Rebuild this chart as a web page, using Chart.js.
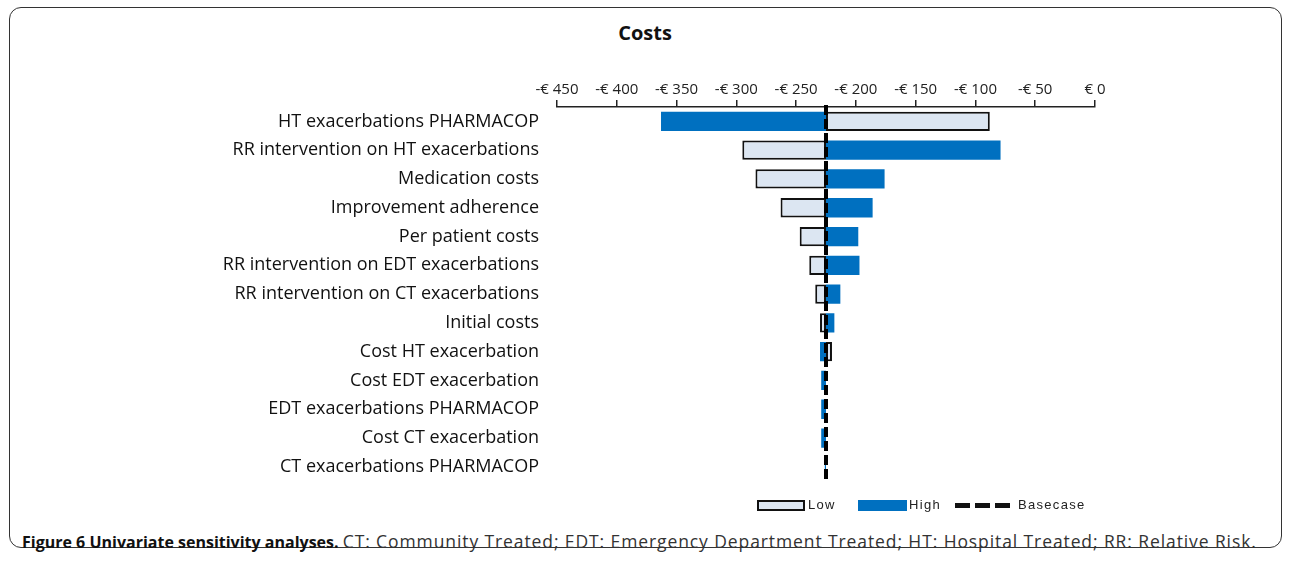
<!DOCTYPE html>
<html>
<head>
<meta charset="utf-8">
<script src="https://cdn.jsdelivr.net/npm/chart.js@4.4.1/dist/chart.umd.min.js"></script>
<style>
  html, body { margin: 0; padding: 0; background: #fff; }
  body { width: 1290px; height: 562px; position: relative; overflow: hidden; font-family: "Open Sans", sans-serif; }
  #frame { position: absolute; left: 9px; top: 7px; width: 1273px; height: 541px; border: 1.5px solid #333; border-radius: 12px; box-sizing: border-box; }
  #title { position: absolute; left: 545px; width: 200px; top: 19px; text-align: center; font: bold 20px "Open Sans", sans-serif; color: #111; }
  #wrap { position: absolute; left: 0; top: 0; width: 1290px; height: 510px; }
  .lg { position: absolute; top: 497px; font: 13px "Liberation Sans", Arial, sans-serif; letter-spacing: 1.3px; color: #222; line-height: 16px; }
  .sw { position: absolute; box-sizing: border-box; }
  .dash { position: absolute; top: 503px; width: 15px; height: 5px; background: #111; }
  #caption { position: absolute; left: 22px; top: 529px; font: 16px "Open Sans", sans-serif; color: #222; white-space: nowrap; }
  #caption b { color: #111; }
  #caption span { font-size: 17.5px; letter-spacing: 0.9px; color: #333; }
</style>
</head>
<body>
<div id="frame"></div>
<div id="title">Costs</div>
<div id="wrap"><canvas id="c"></canvas></div>
<div class="sw" style="left:757px;top:500px;width:48px;height:11px;background:#dce6f2;border:2px solid #111;"></div>
<div class="lg" style="left:808px">Low</div>
<div class="sw" style="left:858px;top:500px;width:49px;height:11px;background:#0070c0;"></div>
<div class="lg" style="left:909px">High</div>
<div class="dash" style="left:955px"></div>
<div class="dash" style="left:975px"></div>
<div class="dash" style="left:995px"></div>
<div class="lg" style="left:1018px">Basecase</div>
<div id="caption"><b>Figure 6 Univariate sensitivity analyses.</b> <span>CT: Community Treated; EDT: Emergency Department Treated; HT: Hospital Treated; RR: Relative Risk.</span></div>
<script>
const categories = [
  "HT exacerbations PHARMACOP",
  "RR intervention on HT exacerbations",
  "Medication costs",
  "Improvement adherence",
  "Per patient costs",
  "RR intervention on EDT exacerbations",
  "RR intervention on CT exacerbations",
  "Initial costs",
  "Cost HT exacerbation",
  "Cost EDT exacerbation",
  "EDT exacerbations PHARMACOP",
  "Cost CT exacerbation",
  "CT exacerbations PHARMACOP"
];
const basecase = -225;
const lowValues  = [-88, -295, -284, -263, -247, -239, -234, -230, -220, -225, -225, -225, -225];
const highValues = [-363, -79, -176, -186, -198, -197, -213, -218, -230, -229, -229, -229, -226];
const tickValues = [-450, -400, -350, -300, -250, -200, -150, -100, -50, 0];

const lowData = lowValues.map(v => [basecase, v]);
const highData = highValues.map(v => [basecase, v]);

const basePlugin = {
  id: 'baseLine',
  afterDatasetsDraw(chart) {
    const ctx = chart.ctx, x = chart.scales.x.getPixelForValue(basecase);
    const a = chart.chartArea;
    ctx.save();
    ctx.strokeStyle = '#000';
    ctx.lineWidth = 4;
    ctx.setLineDash([10, 4]);
    ctx.beginPath();
    ctx.moveTo(x, a.top - 2);
    ctx.lineTo(x, a.bottom);
    ctx.stroke();
    ctx.restore();
  }
};

new Chart(document.getElementById('c'), {
  type: 'bar',
  data: {
    labels: categories,
    datasets: [
      { label: 'Low', data: lowData, backgroundColor: '#dce6f2', borderColor: '#111', borderWidth: 2, borderSkipped: false, grouped: false, categoryPercentage: 0.67, barPercentage: 1, order: 2 },
      { label: 'High', data: highData, backgroundColor: '#0070c0', borderWidth: 0, grouped: false, categoryPercentage: 0.67, barPercentage: 1, order: 1 }
    ]
  },
  options: {
    indexAxis: 'y',
    responsive: true,
    maintainAspectRatio: false,
    animation: false,
    layout: { padding: { top: 80, right: 195, bottom: 12, left: 0 } },
    plugins: { legend: { display: false }, title: { display: false }, tooltip: { enabled: false } },
    scales: {
      x: {
        position: 'top',
        min: -450, max: 0,
        afterBuildTicks(s) { s.ticks = tickValues.map(v => ({ value: v })); },
        ticks: {
          color: '#222',
          font: { family: 'Open Sans', size: 15 },
          padding: 1,
          maxRotation: 0,
          callback: v => v === 0 ? '€ 0' : '-€ ' + Math.abs(v)
        },
        grid: { drawOnChartArea: false, drawTicks: true, tickLength: 7, color: '#222', lineWidth: 1.5 },
        border: { display: true, color: '#222', width: 1.5 }
      },
      y: {
        afterFit(s) { s.width = 557; },
        ticks: { color: '#111', font: { family: 'Open Sans', size: 18 }, padding: 18 },
        grid: { display: false, drawTicks: false },
        border: { display: false }
      }
    }
  },
  plugins: [basePlugin]
});
</script>
</body>
</html>
